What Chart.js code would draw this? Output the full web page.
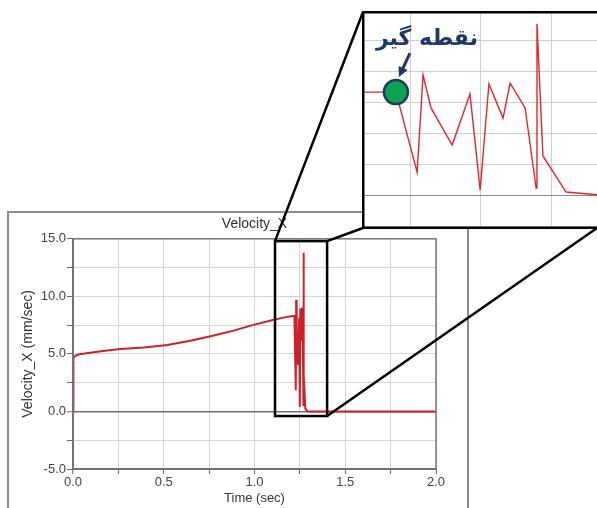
<!DOCTYPE html>
<html>
<head>
<meta charset="utf-8">
<script src="https://cdn.jsdelivr.net/npm/chart.js@4.4.1/dist/chart.umd.min.js"></script>
<style>
  html, body { margin: 0; padding: 0; background: #fff; }
  body { position: relative; width: 597px; height: 508px; overflow: hidden; }
  #frame { position: absolute; left: 7px; top: 211px; width: 458px; height: 330px; border: 2px solid #8c8c8c; }
  #main { position: absolute; left: 0; top: 0; }
  #inset { position: absolute; left: 362px; top: 11px; }
</style>
</head>
<body>
<div id="frame"></div>
<canvas id="main" width="597" height="508"></canvas>
<canvas id="inset" width="240" height="218"></canvas>
<script>
// Velocity_X over time (sec, mm/sec)
const TIME = [
  0, 0.0005, 0.002, 0.004, 0.008, 0.015, 0.03, 0.075, 0.165, 0.26,
  0.39, 0.52, 0.64, 0.77, 0.88, 0.99, 1.10, 1.16, 1.21, 1.22,
  1.2275, 1.2296, 1.2324, 1.2399, 1.2462, 1.2498, 1.2529, 1.2579, 1.2604, 1.2657,
  1.2696, 1.2699, 1.2720, 1.2802, 1.2911, 1.30, 2.0,
];
const VELOCITY = [
  0, 2.2, 2.3, 4.6, 4.75, 4.85, 4.95, 5.06, 5.26, 5.43,
  5.56, 5.78, 6.12, 6.57, 7.0, 7.5, 7.95, 8.15, 8.3, 8.3,
  1.85, 9.68, 7.02, 4.03, 8.15, 0.40, 8.95, 6.21, 9.03, 7.02,
  0.56, 13.79, 3.15, 0.24, 0.02, 0, 0,
];

const X_LABELS = [0, 0.5, 1, 1.5, 2];
const Y_LABELS = [-5, 0, 5, 10, 15];

// region boxed on the main plot, and the range shown in the inset
const ZOOM_T = [1.113, 1.40];
const ZOOM_V = [-0.4, 14.8];
const INSET_T = [1.2080, 1.2929];
const INSET_V = [-2.74, 14.84];

// stuck point
const MARK_T = [1.22];
const MARK_V = [8.3];
const MARK_LABEL = 'نقطه گیر';

const FONT = '"Liberation Sans", Arial, sans-serif';
const NAVY = '#1f3864';

const series = TIME.map((t, i) => ({ x: t, y: VELOCITY[i] }));

const insetDecor = {
  id: 'insetDecor',
  beforeDraw(chart) {
    const ctx = chart.ctx;
    ctx.save();
    ctx.fillStyle = '#fff';
    ctx.fillRect(0, 0, chart.width, chart.height);
    ctx.restore();
  },
  afterDraw(chart) {
    const { ctx, chartArea: a } = chart;
    const mx = chart.scales.x.getPixelForValue(MARK_T[0]);
    const my = chart.scales.y.getPixelForValue(MARK_V[0]);
    ctx.save();
    // arrow towards the marker
    const x0 = mx + 14, y0 = my - 39, x1 = mx + 3, y1 = my - 15;
    const ang = Math.atan2(y1 - y0, x1 - x0);
    ctx.strokeStyle = NAVY;
    ctx.fillStyle = NAVY;
    ctx.lineWidth = 3;
    ctx.beginPath();
    ctx.moveTo(x0, y0);
    ctx.lineTo(x1 - 6 * Math.cos(ang), y1 - 6 * Math.sin(ang));
    ctx.stroke();
    ctx.beginPath();
    ctx.moveTo(x1, y1);
    ctx.lineTo(x1 - 10 * Math.cos(ang) + 5 * Math.sin(ang), y1 - 10 * Math.sin(ang) - 5 * Math.cos(ang));
    ctx.lineTo(x1 - 10 * Math.cos(ang) - 5 * Math.sin(ang), y1 - 10 * Math.sin(ang) + 5 * Math.cos(ang));
    ctx.closePath();
    ctx.fill();
    // label
    ctx.direction = 'rtl';
    ctx.textAlign = 'right';
    ctx.textBaseline = 'alphabetic';
    ctx.font = 'bold 22px "DejaVu Sans", sans-serif';
    ctx.fillText(MARK_LABEL, mx + 82, my - 47);
    // frame
    ctx.strokeStyle = '#000';
    ctx.lineWidth = 2.5;
    ctx.strokeRect(a.left + 1.25, a.top + 1.25, a.width + 20, a.height - 2.5);
    ctx.restore();
  },
};

const insetChart = new Chart(document.getElementById('inset'), {
  type: 'line',
  data: {
    datasets: [
      {
        data: MARK_T.map((t, i) => ({ x: t, y: MARK_V[i] })),
        showLine: false,
        pointRadius: 12,
        pointBackgroundColor: '#0da24e',
        pointBorderColor: NAVY,
        pointBorderWidth: 2.5,
      },
      {
        data: series,
        borderColor: '#e3262b',
        borderWidth: 1.4,
        pointRadius: 0,
        tension: 0,
      },
    ],
  },
  options: {
    responsive: false,
    animation: false,
    events: [],
    layout: { padding: 0, autoPadding: false },
    plugins: { legend: { display: false }, tooltip: { enabled: false } },
    scales: {
      x: {
        type: 'linear',
        min: INSET_T[0],
        max: INSET_T[1],
        ticks: { display: false, stepSize: 0.025, includeBounds: false },
        grid: { color: '#cfcfcf', drawTicks: false },
        border: { display: false },
      },
      y: {
        min: INSET_V[0],
        max: INSET_V[1],
        ticks: { display: false, stepSize: 2.5, includeBounds: false },
        grid: {
          color: (c) => (c.tick && c.tick.value === 0 ? '#8a8a8a' : '#cfcfcf'),
          drawTicks: false,
        },
        border: { display: false },
      },
    },
  },
  plugins: [insetDecor],
});

const mainDecor = {
  id: 'mainDecor',
  afterDraw(chart) {
    const { ctx, chartArea: a } = chart;
    const xs = chart.scales.x, ys = chart.scales.y;
    ctx.save();
    ctx.strokeStyle = '#777';
    ctx.lineWidth = 1.5;
    ctx.strokeRect(a.left, a.top, a.width, a.height);

    const bx0 = xs.getPixelForValue(ZOOM_T[0]), bx1 = xs.getPixelForValue(ZOOM_T[1]);
    const by0 = ys.getPixelForValue(ZOOM_V[1]), by1 = ys.getPixelForValue(ZOOM_V[0]);
    const cv = insetChart.canvas, ia = insetChart.chartArea;
    const ix0 = cv.offsetLeft + ia.left + 1;
    const iy0 = cv.offsetTop + ia.top + 1;
    const iy1 = cv.offsetTop + ia.bottom - 1;
    const ix1 = Math.min(cv.offsetLeft + ia.right, chart.width);

    ctx.strokeStyle = '#000';
    ctx.lineWidth = 2.5;
    ctx.strokeRect(bx0, by0, bx1 - bx0, by1 - by0);
    ctx.beginPath();
    ctx.moveTo(bx0, by0); ctx.lineTo(ix0, iy0);
    ctx.moveTo(bx1, by0); ctx.lineTo(ix0, iy1);
    ctx.moveTo(bx1, by1); ctx.lineTo(ix1, iy1);
    ctx.stroke();
    ctx.restore();
  },
};

const gridColor = (c) => (c.tick && c.tick.value === 0 ? '#707070' : '#d4d4d4');
const gridWidth = (c) => (c.tick && c.tick.value === 0 ? 1.5 : 1);

new Chart(document.getElementById('main'), {
  type: 'line',
  data: {
    datasets: [
      {
        data: series,
        borderColor: '#cf2027',
        borderWidth: 2,
        pointRadius: 0,
        tension: 0,
      },
    ],
  },
  options: {
    responsive: false,
    animation: false,
    events: [],
    layout: { padding: { left: 8, right: 161, top: 212, bottom: 0 } },
    plugins: {
      legend: { display: false },
      tooltip: { enabled: false },
      title: {
        display: true,
        fullSize: false,
        text: 'Velocity_X',
        color: '#333',
        font: { family: FONT, size: 14, weight: 'normal' },
        padding: { top: 4, bottom: 6 },
      },
    },
    scales: {
      x: {
        type: 'linear',
        min: 0,
        max: 2,
        afterFit: (s) => { s.height = 39; },
        ticks: {
          stepSize: 0.25,
          autoSkip: false,
          maxRotation: 0,
          padding: 1,
          color: '#444',
          font: { family: FONT, size: 13 },
          callback: (v) => (X_LABELS.includes(v) ? v.toFixed(1) : ''),
        },
        grid: { color: gridColor, lineWidth: gridWidth, tickColor: '#666', tickLength: 5, tickWidth: 1 },
        border: { color: '#666', width: 2 },
        title: {
          display: true,
          text: 'Time (sec)',
          color: '#333',
          font: { family: FONT, size: 13 },
          padding: { top: 0, bottom: 2 },
        },
      },
      y: {
        min: -5,
        max: 15,
        afterFit: (s) => { s.width = 65; },
        ticks: {
          stepSize: 2.5,
          autoSkip: false,
          padding: 1,
          color: '#444',
          font: { family: FONT, size: 13 },
          callback: (v) => (Y_LABELS.includes(v) ? v.toFixed(1) : ''),
        },
        grid: { color: gridColor, lineWidth: gridWidth, tickColor: '#666', tickLength: 6, tickWidth: 1 },
        border: { color: '#666', width: 2 },
        title: {
          display: true,
          text: 'Velocity_X (mm/sec)',
          color: '#333',
          font: { family: FONT, size: 14 },
          padding: { top: 12, bottom: 0 },
        },
      },
    },
  },
  plugins: [mainDecor],
});
</script>
</body>
</html>
